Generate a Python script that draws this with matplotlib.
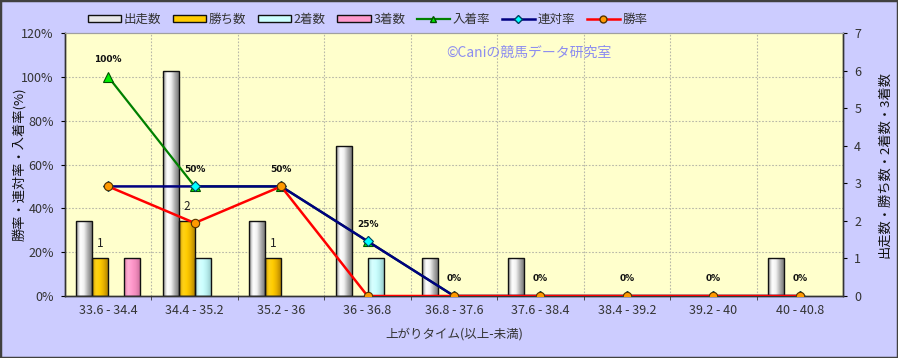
import numpy as np
import matplotlib
matplotlib.use("Agg")
import matplotlib.pyplot as plt
import matplotlib.ticker as mticker
from matplotlib.colors import LinearSegmentedColormap
from matplotlib.patches import Patch, Rectangle
from matplotlib.lines import Line2D

plt.rcParams['font.family'] = ['Noto Sans CJK JP', 'DejaVu Sans']

# ── dados ─────────────────────────────────────────────────────────────────────
categorias = ['33.6 - 34.4', '34.4 - 35.2', '35.2 - 36', '36 - 36.8', '36.8 - 37.6',
              '37.6 - 38.4', '38.4 - 39.2', '39.2 - 40', '40 - 40.8']
shusso = [2, 6, 2, 4, 1, 1, 0, 0, 1]
kachi = [1, 2, 1, 0, 0, 0, 0, 0, 0]
nichaku = [0, 1, 0, 1, 0, 0, 0, 0, 0]
sanchaku = [1, 0, 0, 0, 0, 0, 0, 0, 0]
nyuchaku_ritsu = [100, 50, 50, 25, 0, 0, 0, 0, 0]
rentai_ritsu = [50, 50, 50, 25, 0, 0, 0, 0, 0]
shoritsu = [50, 33.3, 50, 0, 0, 0, 0, 0, 0]
rotulos_kachi = ['1', '2', '1', '', '', '', '', '', '']

BG = '#CCCCFF'
PLOT_BG = '#FFFFCC'
TXT = '#333333'

CMAPS = {
    'shusso': LinearSegmentedColormap.from_list('s', ['#8a8a8a', '#ffffff', '#f2f2f2', '#b0b0b0', '#7a7a7a']),
    'kachi': LinearSegmentedColormap.from_list('k', ['#c89600', '#ffd21a', '#ffcc00', '#e6b000', '#b38600']),
    'ni': LinearSegmentedColormap.from_list('n', ['#9fd6d6', '#d8ffff', '#ccffff', '#b8eeee', '#99cccc']),
    'san': LinearSegmentedColormap.from_list('p', ['#e07aa8', '#ffb0d6', '#ff99cc', '#f08cbc', '#d070a0']),
}
FACE = {'shusso': '#e8e8e8', 'kachi': '#ffcc00', 'ni': '#ccffff', 'san': '#ff99cc'}

fig = plt.figure(figsize=(8.98, 3.58), dpi=100)
fig.patch.set_facecolor(BG)
fig.patches.append(Rectangle((0, 0), 1, 1, transform=fig.transFigure, fill=False,
                             edgecolor='#404040', linewidth=2.5, zorder=10))

ax_bar = fig.add_axes([0.0724, 0.1732, 0.8664, 0.7346])
ax_bar.set_facecolor(PLOT_BG)
ax_lin = ax_bar.twinx()

x = np.arange(len(categorias))
w = 0.185
grad = np.linspace(0, 1, 64).reshape(1, -1)
series = [('shusso', shusso, -1.5), ('kachi', kachi, -0.5), ('ni', nichaku, 0.5), ('san', sanchaku, 1.5)]
for nome, vals, off in series:
    bc = ax_bar.bar(x + off * w, vals, width=w, facecolor='none', edgecolor='#111111',
                    linewidth=1.0, zorder=3)
    for r in bc:
        if r.get_height() <= 0:
            r.set_visible(False)
            continue
        im = ax_bar.imshow(grad, extent=[r.get_x(), r.get_x() + r.get_width(), 0, r.get_height()],
                           aspect='auto', cmap=CMAPS[nome], zorder=2.5, interpolation='bicubic')
        im.set_clip_path(r)

for xi, v, t in zip(x, kachi, rotulos_kachi):
    if t:
        ax_bar.annotate(t, (xi - 0.5 * w, v), xytext=(0, 6), textcoords='offset points',
                        ha='center', va='bottom', fontsize=8.5, color='#222222', zorder=5)

ax_bar.set_xlim(-0.5, len(categorias) - 0.5)
ax_bar.set_ylim(0, 7)
ax_lin.set_ylim(0, 120)

# grade nas posições de percentual (convertidas para a escala de contagem)
ax_bar.yaxis.set_minor_locator(mticker.FixedLocator([p * 7 / 120 for p in range(20, 120, 20)]))
ax_bar.xaxis.set_minor_locator(mticker.FixedLocator(np.arange(0.5, len(categorias) - 0.5, 1)))
ax_bar.grid(which='minor', color='#b8b8a8', linestyle=(0, (1.5, 1.5)), linewidth=0.8)
ax_bar.set_axisbelow(True)

# linhas
ax_lin.plot(x, nyuchaku_ritsu, color='#008000', lw=1.6, marker='^', ms=7,
            mfc='#00ee00', mec='#005000', mew=0.8, zorder=4)
ax_lin.plot(x, rentai_ritsu, color='#000080', lw=1.8, marker='D', ms=5,
            mfc='#00ffff', mec='#004060', mew=0.8, zorder=5)
ax_lin.plot(x, shoritsu, color='#ff0000', lw=1.8, marker='o', ms=6,
            mfc='#ff9900', mec='#553300', mew=0.8, zorder=6)
for xi, v in zip(x, nyuchaku_ritsu):
    ax_lin.annotate(f'{v:.0f}%', (xi, v), xytext=(0, 9), textcoords='offset points',
                    ha='center', va='bottom', fontsize=6.5, fontweight='bold',
                    color='#111111', family='DejaVu Sans')

# eixos: barras à direita, percentuais à esquerda
ax_bar.yaxis.tick_right()
ax_lin.yaxis.tick_left()
ax_bar.set_yticks(range(0, 8))
ax_lin.set_yticks(range(0, 121, 20))
ax_lin.yaxis.set_major_formatter(mticker.FuncFormatter(lambda v, _p: f'{v:.0f}%'))
ax_bar.set_xticks(x)
ax_bar.set_xticklabels(categorias)
ax_bar.tick_params(axis='x', which='major', length=0, pad=6, labelsize=9, labelcolor=TXT)
ax_bar.tick_params(axis='x', which='minor', length=3, color='#333333')
ax_bar.tick_params(axis='y', which='major', length=3, pad=5, labelsize=9, labelcolor=TXT)
ax_bar.tick_params(axis='y', which='minor', length=0)
ax_lin.tick_params(axis='y', length=3, pad=5, labelsize=9, labelcolor=TXT)

for a in (ax_bar, ax_lin):
    for s in ('left', 'bottom', 'right'):
        a.spines[s].set_color('#333333')
        a.spines[s].set_linewidth(1.0)
    a.spines['top'].set_color('#a0a0a0')

ax_bar.set_xlabel('上がりタイム(以上-未満)', fontsize=9, color=TXT, labelpad=7)
fig.text(0.021, 0.54, '勝率・連対率・入着率(%)', rotation=90, ha='center', va='center',
         fontsize=9.5, color='#111111')
fig.text(0.985, 0.54, '出走数・勝ち数・2着数・3着数', rotation=90, ha='center', va='center',
         fontsize=9.5, color='#111111')

ax_lin.text(0.49, 0.925, '©Caniの競馬データ研究室', transform=ax_lin.transAxes,
            fontsize=10, color='#8c8cf0', ha='left', va='center', zorder=1)

handles = [Patch(facecolor=FACE['shusso'], edgecolor='#111111'),
           Patch(facecolor=FACE['kachi'], edgecolor='#111111'),
           Patch(facecolor=FACE['ni'], edgecolor='#111111'),
           Patch(facecolor=FACE['san'], edgecolor='#111111'),
           Line2D([], [], color='#008000', lw=1.6, marker='^', ms=5, mfc='#00ee00', mec='#005000'),
           Line2D([], [], color='#000080', lw=1.8, marker='D', ms=4, mfc='#00ffff', mec='#004060'),
           Line2D([], [], color='#ff0000', lw=1.8, marker='o', ms=5, mfc='#ff9900', mec='#553300')]
nomes = ['出走数', '勝ち数', '2着数', '3着数', '入着率', '連対率', '勝率']
fig.legend(handles, nomes, loc='upper left', bbox_to_anchor=(0.085, 0.995), ncol=7,
           frameon=False, fontsize=9, handlelength=2.7, handleheight=0.55,
           handletextpad=0.2, columnspacing=0.9, labelcolor=TXT)

fig.savefig('out.png', dpi=100, facecolor=BG)
